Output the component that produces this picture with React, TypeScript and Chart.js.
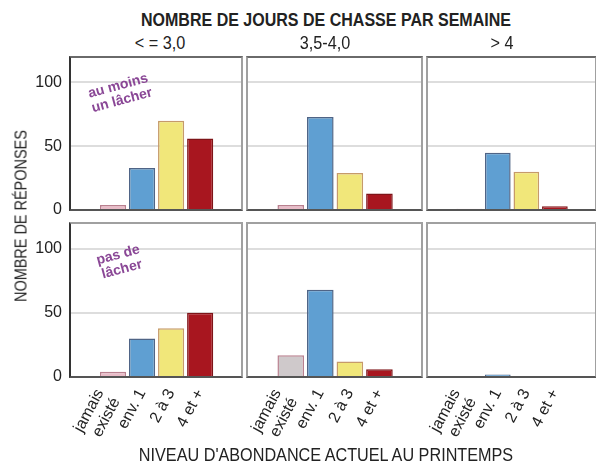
import React, { useEffect, useRef } from "react";
import { Chart, registerables } from "chart.js";

Chart.register(...registerables);

// ---- data ----
const categories: (string | string[])[] = [["jamais", "existé"], "env. 1", "2 à 3", "4 et +"];
const columnLabels = ["< = 3,0", "3,5-4,0", "> 4"];
const rowLabels = [["au moins", "un lâcher"], ["pas de", "lâcher"]];
const yTickValues = [0, 50, 100];

const auMoinsLow = [4, 33, 70, 56];
const auMoinsMid = [4, 73, 29, 13];
const auMoinsHigh = [1, 45, 30, 3];
const pasDeLow = [4, 30, 38, 50];
const pasDeMid = [17, 68, 12, 6];
const pasDeHigh = [0, 2, 0, 0];

const mainTitle = "NOMBRE DE JOURS DE CHASSE PAR SEMAINE";
const xTitle = "NIVEAU D'ABONDANCE ACTUEL AU PRINTEMPS";
const yTitle = "NOMBRE DE RÉPONSES";

// ---- style ----
const SANS = "'Liberation Sans', Arial, sans-serif";
const fills = ["#e9bcc8", "#5f9fd2", "#f1e77a", "#a8161f"];
const fillsGray = ["#cfc9cb", "#5f9fd2", "#f1e77a", "#a8161f"];
const borders = ["#b9808f", "#4f6486", "#c69a6a", "#7e1418"];

const colX = [
  { left: 70, right: 242 },
  { left: 247, right: 422 },
  { left: 427, right: 596 },
];
const rowY = [
  { top: 57, bottom: 210 },
  { top: 223, bottom: 377 },
];
const LEFT_EXT = 24;
const TOP_ROW_PAD = 12;
const MULTILINE_TICK_SHIFT = -0.45;

type PanelProps = { values: number[]; row: number; col: number; colors: string[] };

function Panel({ values, row, col, colors }: PanelProps) {
  const ref = useRef<HTMLCanvasElement | null>(null);
  const cx = colX[col];
  const ry = rowY[row];
  const yAxisW = col === 0 ? cx.left : LEFT_EXT;
  const canvasLeft = cx.left - yAxisW;
  const canvasW = cx.right - canvasLeft;
  const xAxisH = row === 1 ? 466 - ry.bottom : 0;
  const bottomPad = row === 1 ? 0 : TOP_ROW_PAD;
  const canvasTop = ry.top;
  const canvasH = ry.bottom - ry.top + xAxisH + bottomPad;

  useEffect(() => {
    const chart = new Chart(ref.current as HTMLCanvasElement, {
      type: "bar",
      data: {
        datasets: [
          {
            data: values.map((v, i) => ({ x: i, y: v })),
            backgroundColor: colors,
            borderColor: borders,
            borderWidth: 1.5,
            barPercentage: 0.9,
            categoryPercentage: 1,
          },
        ],
      },
      options: {
        animation: false,
        responsive: false,
        maintainAspectRatio: false,
        layout: { padding: { left: 0, right: 0, top: 0, bottom: bottomPad } },
        plugins: { legend: { display: false }, tooltip: { enabled: false }, title: { display: false } },
        scales: {
          x: {
            type: "linear",
            min: -0.74,
            max: 3.7,
            display: row === 1,
            grid: { display: false },
            border: { display: false },
            afterBuildTicks: (s: any) => {
              s.ticks = categories.map((c, i) => ({ value: i + (Array.isArray(c) ? MULTILINE_TICK_SHIFT : 0) }));
            },
            afterFit: (s: any) => {
              s.height = xAxisH;
              s.paddingLeft = 0;
              s.paddingRight = 0;
              s.paddingTop = 0;
              s.paddingBottom = 0;
            },
            ticks: {
              autoSkip: false,
              minRotation: 62,
              maxRotation: 62,
              padding: 1,
              color: "#222",
              font: { family: SANS, size: 16, lineHeight: 1.15 },
              callback: (_v: any, index: number) => categories[index] as any,
            },
          },
          y: {
            min: 0,
            max: 120,
            afterBuildTicks: (s: any) => {
              s.ticks = yTickValues.map((v) => ({ value: v }));
            },
            afterFit: (s: any) => {
              s.width = yAxisW;
              s.paddingLeft = 0;
              s.paddingRight = 0;
              s.paddingTop = 0;
              s.paddingBottom = 0;
            },
            grid: { color: "#dddddd", lineWidth: 2, drawTicks: false },
            border: { display: false },
            ticks: {
              display: col === 0,
              padding: 8,
              color: "#222",
              font: { family: SANS, size: 16 },
            },
          },
        },
      },
    } as any);
    return () => chart.destroy();
  }, []);

  return (
    <canvas
      ref={ref}
      width={canvasW}
      height={canvasH}
      style={{ position: "absolute", left: canvasLeft, top: canvasTop, width: canvasW, height: canvasH }}
    />
  );
}

const panels = [
  [auMoinsLow, auMoinsMid, auMoinsHigh],
  [pasDeLow, pasDeMid, pasDeHigh],
];

function Frame({ row, col }: { row: number; col: number }) {
  const cx = colX[col];
  const ry = rowY[row];
  return (
    <div
      style={{
        position: "absolute",
        left: cx.left - 1,
        top: ry.top - 1,
        width: cx.right - cx.left + 2,
        height: ry.bottom - ry.top + 2,
        boxSizing: "border-box",
        borderTop: "2px solid " + (row === 0 ? "#6a6a6a" : "#a0a0a0"),
        borderRight: "2px solid #a0a0a0",
        borderLeft: "2px solid " + (col === 0 ? "#333" : "#a0a0a0"),
        borderBottom: "2px solid #555",
        pointerEvents: "none",
      }}
    />
  );
}

function Text({ x, y, children, style, tf }: { x: number; y: number; children: any; style?: any; tf?: string }) {
  return (
    <div
      style={{
        position: "absolute",
        left: x,
        top: y,
        transform: "translate(-50%, -50%) " + (tf || "scaleX(0.9)"),
        whiteSpace: "nowrap",
        lineHeight: 1,
        fontFamily: SANS,
        color: "#222",
        ...style,
      }}
    >
      {children}
    </div>
  );
}

export default function App() {
  const colCenters = [160, 325, 502];
  return (
    <div style={{ position: "absolute", left: 0, top: 0, width: 596, height: 466, background: "#fff", overflow: "hidden" }}>
      {panels.map((rowVals, r) =>
        rowVals.map((vals, c) => (
          <Panel key={r + "-" + c} values={vals} row={r} col={c} colors={r === 1 && c === 1 ? fillsGray : fills} />
        ))
      )}
      {panels.map((rowVals, r) => rowVals.map((_, c) => <Frame key={"f" + r + c} row={r} col={c} />))}
      <Text x={326} y={20} style={{ fontWeight: "bold", fontSize: 18 }} tf="scaleX(0.89)">
        {mainTitle}
      </Text>
      {columnLabels.map((l, i) => (
        <Text key={l} x={colCenters[i]} y={43} style={{ fontSize: 18 }}>
          {l}
        </Text>
      ))}
      <Text x={21} y={216} style={{ fontSize: 17 }} tf="rotate(-90deg) scaleX(0.85)">
        {yTitle}
      </Text>
      <Text x={326} y={455} style={{ fontSize: 18 }}>
        {xTitle}
      </Text>
      {rowLabels.map((lines, r) => (
        <Text
          key={"r" + r}
          x={120}
          y={r === 0 ? 93 : 262}
          tf="rotate(-15deg)"
          style={{
            fontWeight: "bold",
            fontSize: 14,
            color: "#8a4796",
            textAlign: "center",
            lineHeight: 1.1,
          }}
        >
          {lines.map((l) => (
            <div key={l}>{l}</div>
          ))}
        </Text>
      ))}
    </div>
  );
}
